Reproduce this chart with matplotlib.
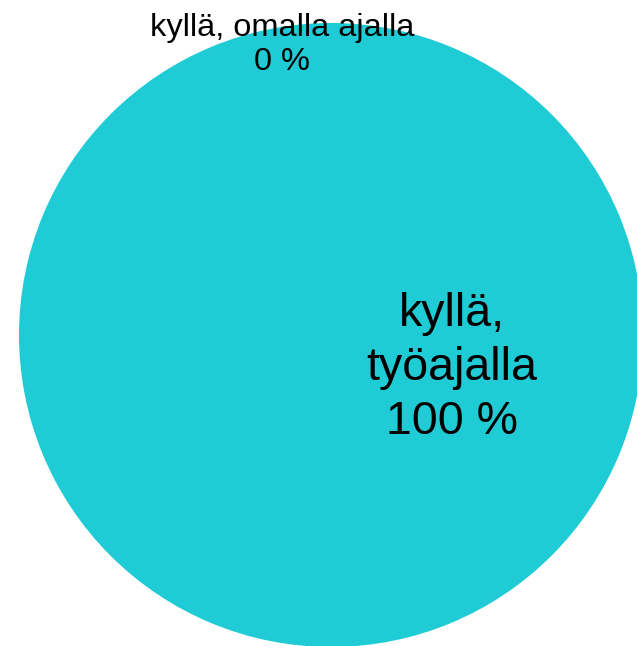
import matplotlib.pyplot as plt

# data
labels = ["kyllä, omalla ajalla", "kyllä,\ntyöajalla"]
values = [0, 100]
pct_labels = ["0 %", "100 %"]

TEAL = "#1FCBD5"
font = "Liberation Sans"

W, H = 637, 646
fig = plt.figure(figsize=(W / 100, H / 100), dpi=100)
ax = fig.add_axes([0, 0, 1, 1])

# circle centre / radius in pixel units
cx, cy, r = 331, H - 335, 312

ax.pie(values, colors=["#4472C4", TEAL], startangle=90, counterclock=False,
       center=(cx, cy), radius=r, frame=True,
       wedgeprops=dict(linewidth=0))

ax.set_xlim(0, W)
ax.set_ylim(0, H)
ax.set_aspect("auto")
ax.axis("off")

# label positions (pixel offsets from the top-left corner)
ax.text(282, H - 45, labels[0] + "\n" + pct_labels[0], ha="center", va="center",
        fontsize=23.4, family=font, color="black", linespacing=1.15)
ax.text(452, H - 368, labels[1] + "\n" + pct_labels[1], ha="center", va="center",
        fontsize=33.5, family=font, color="black", linespacing=1.3)

fig.savefig("out.png", dpi=100)
